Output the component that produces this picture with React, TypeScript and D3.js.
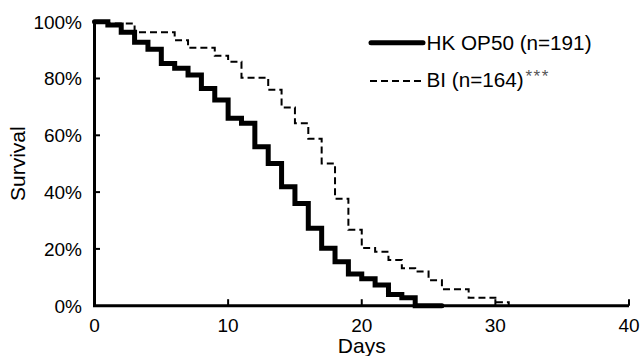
import React from "react";
import * as d3 from "d3";

const hkDays = [0, 1, 2, 3, 4, 5, 6, 7, 8, 9, 10, 11, 12, 13, 14, 15, 16, 17, 18, 19, 20, 21, 22, 23, 24, 26];
const hkSurv = [100, 98.8, 96.3, 92.8, 90.3, 85.3, 83.6, 81.2, 76.5, 72.4, 66, 64.2, 56, 50.1, 41.9, 36, 27.3, 20.2, 15.5, 11.2, 9.5, 7.3, 3.9, 2.8, 0, 0];

const biDays = [0, 1, 3, 6, 7, 9, 10, 11, 13, 14, 15, 16, 17, 18, 19, 20, 21, 22, 23, 24, 25, 26, 28, 30, 31];
const biSurv = [100, 99.4, 96.3, 93.5, 90.8, 88, 85.9, 80.3, 76, 69.8, 64.2, 58.8, 50.1, 37.7, 26.7, 20.3, 19, 16.1, 13.2, 12, 9, 5.8, 2.8, 1.2, 0];

const xTicks = [0, 10, 20, 30, 40];
const yTicks = [0, 20, 40, 60, 80, 100];
const legendLabels = ["HK OP50 (n=191)", "BI (n=164)"];
const sigMark = "***";

const W = 641;
const H = 356;
const FONT = "'Liberation Sans', Arial, Helvetica, sans-serif";

export default function App() {
  const x = d3.scaleLinear().domain([0, 40]).range([94.5, 629]);
  const y = d3.scaleLinear().domain([0, 100]).range([305.7, 21.7]);

  const line = d3
    .line<[number, number]>()
    .x((d) => x(d[0]))
    .y((d) => y(d[1]))
    .curve(d3.curveStepAfter);

  const hkData: [number, number][] = hkDays.map((d, i) => [d, hkSurv[i]]);
  const biData: [number, number][] = biDays.map((d, i) => [d, biSurv[i]]);

  const x0 = x(0);
  const y0 = y(0);

  return (
    <svg
      width={W}
      height={H}
      style={{ position: "absolute", left: 0, top: 0, background: "#fff" }}
      fontFamily={FONT}
    >
      <rect x={0} y={0} width={W} height={H} fill="#fff" />
      {/* dashed BI */}
      <path d={line(biData) || ""} fill="none" stroke="#000" strokeWidth={2} strokeDasharray="7,4" />
      {/* solid HK */}
      <path d={line(hkData) || ""} fill="none" stroke="#000" strokeWidth={5} strokeLinecap="round" strokeLinejoin="miter" />

      {/* axes */}
      <line x1={x0} x2={x0} y1={y(100)} y2={y0} stroke="#000" strokeWidth={3} />
      <line x1={x0 - 1.5} x2={x(40)} y1={y0} y2={y0} stroke="#000" strokeWidth={3} />
      {yTicks.map((t) => (
        <g key={"y" + t}>
          {t > 0 && <line x1={x0} x2={x0 + 5.5} y1={y(t)} y2={y(t)} stroke="#000" strokeWidth={2} />}
          <text x={82} y={y(t)} dy="0.36em" textAnchor="end" fontSize={19} fill="#000">
            {t + "%"}
          </text>
        </g>
      ))}
      {xTicks.map((t) => (
        <g key={"x" + t}>
          {t > 0 && <line x1={x(t)} x2={x(t)} y1={y0} y2={y0 - 6.5} stroke="#000" strokeWidth={2} />}
          <text x={x(t)} y={332} textAnchor="middle" fontSize={19} fill="#000">
            {t}
          </text>
        </g>
      ))}
      <text x={x(20)} y={353} textAnchor="middle" fontSize={21} fill="#000">
        Days
      </text>
      <text transform={`translate(25,${y(50)}) rotate(-90)`} textAnchor="middle" fontSize={21} fill="#000">
        Survival
      </text>

      {/* legend */}
      <line x1={371} x2={423} y1={42.7} y2={42.7} stroke="#000" strokeWidth={5} strokeLinecap="round" />
      <text x={426.5} y={50} fontSize={20.7} fill="#000">
        {legendLabels[0]}
      </text>
      <line x1={370} x2={424} y1={81} y2={81} stroke="#000" strokeWidth={2} strokeDasharray="7,4" />
      <text x={426.5} y={87.3} fontSize={20.7} fill="#000">
        {legendLabels[1]}
      </text>
      <text x={525.5} y={82} fontSize={17} letterSpacing={1.5} fill="#555">
        {sigMark}
      </text>
    </svg>
  );
}
